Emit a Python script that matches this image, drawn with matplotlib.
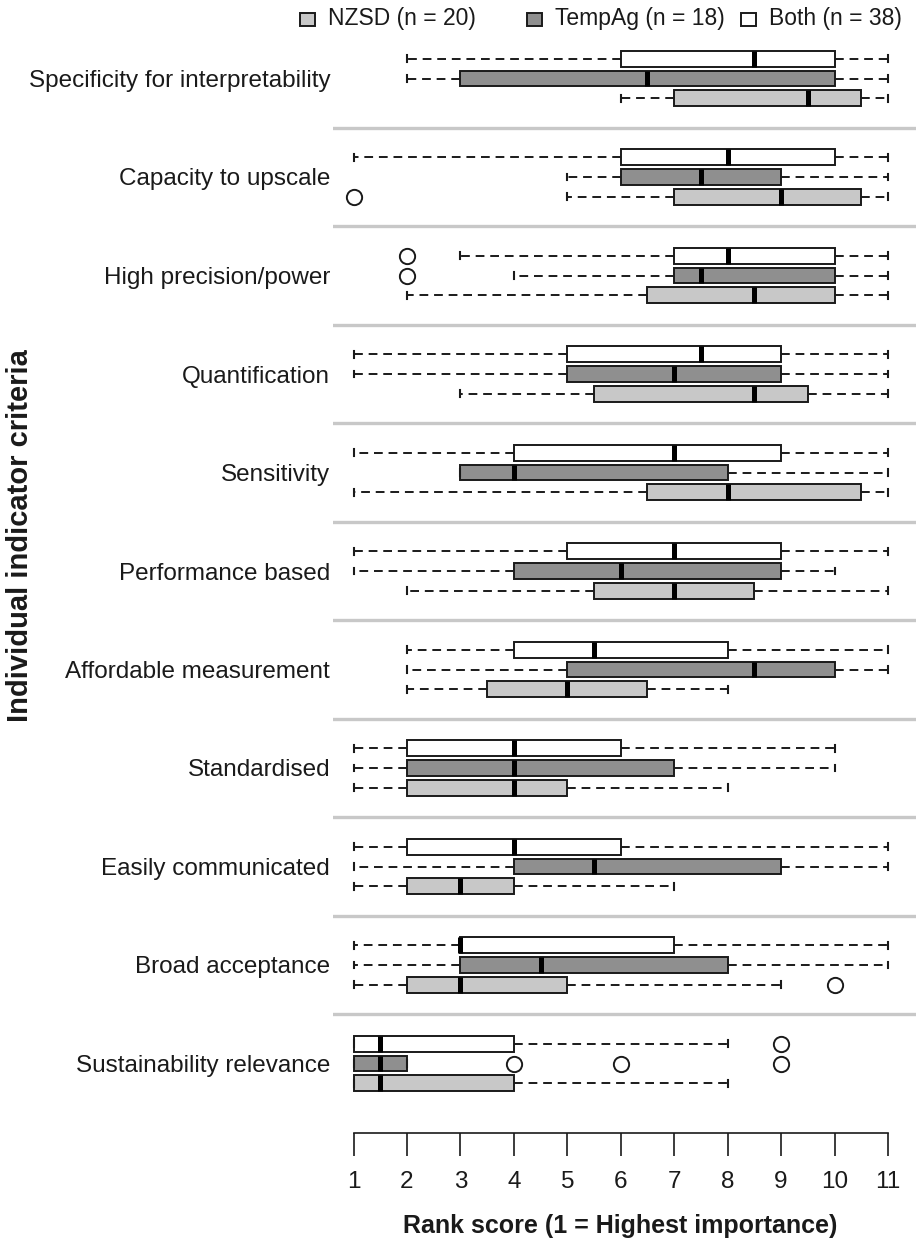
import numpy as np
import matplotlib
matplotlib.use("Agg")
import matplotlib.pyplot as plt
from matplotlib.patches import Rectangle

plt.rcParams['font.family'] = ['Liberation Sans', 'DejaVu Sans']

# criteria, top to bottom
criteria = [
    "Specificity for interpretability",
    "Capacity to upscale",
    "High precision/power",
    "Quantification",
    "Sensitivity",
    "Performance based",
    "Affordable measurement",
    "Standardised",
    "Easily communicated",
    "Broad acceptance",
    "Sustainability relevance",
]

# five-number summaries: (whisker low, Q1, median, Q3, whisker high)
both_stats = [
    (2, 6, 8.5, 10, 11), (1, 6, 8, 10, 11), (3, 7, 8, 10, 11), (1, 5, 7.5, 9, 11),
    (1, 4, 7, 9, 11), (1, 5, 7, 9, 11), (2, 4, 5.5, 8, 11), (1, 2, 4, 6, 10),
    (1, 2, 4, 6, 11), (1, 3, 3, 7, 11), (1, 1, 1.5, 4, 8),
]
tempag_stats = [
    (2, 3, 6.5, 10, 11), (5, 6, 7.5, 9, 11), (4, 7, 7.5, 10, 11), (1, 5, 7, 9, 11),
    (3, 3, 4, 8, 11), (1, 4, 6, 9, 10), (2, 5, 8.5, 10, 11), (1, 2, 4, 7, 10),
    (1, 4, 5.5, 9, 11), (1, 3, 4.5, 8, 11), (1, 1, 1.5, 2, 2),
]
nzsd_stats = [
    (6, 7, 9.5, 10.5, 11), (5, 7, 9, 10.5, 11), (2, 6.5, 8.5, 10, 11), (3, 5.5, 8.5, 9.5, 11),
    (1, 6.5, 8, 10.5, 11), (2, 5.5, 7, 8.5, 11), (2, 3.5, 5, 6.5, 8), (1, 2, 4, 5, 8),
    (1, 2, 3, 4, 7), (1, 2, 3, 5, 9), (1, 1, 1.5, 4, 8),
]

# outliers: criterion index -> values
both_fliers = {2: [2], 10: [9]}
tempag_fliers = {2: [2], 10: [4, 6, 9]}
nzsd_fliers = {1: [1], 9: [10]}

group_names = ["NZSD (n = 20)", "TempAg (n = 18)", "Both (n = 38)"]
group_colors = ["#c8c8c8", "#8f8f8f", "#ffffff"]


def make_stats(stats, fliers):
    out = []
    for i, (lo, q1, med, q3, hi) in enumerate(stats):
        out.append({"whislo": lo, "q1": q1, "med": med, "q3": q3, "whishi": hi,
                    "fliers": np.array(fliers.get(i, []), dtype=float)})
    return out


fig = plt.figure(figsize=(9.16, 12.45), dpi=100)
ax = fig.add_axes([333 / 916, 1 - 1133 / 1245, (916 - 333) / 916, (1133 - 30) / 1245])

idx = np.arange(len(criteria))
offsets = [0.2, 0.0, -0.2]  # NZSD bottom, TempAg middle, Both top
all_stats = [nzsd_stats, tempag_stats, both_stats]
all_fliers = [nzsd_fliers, tempag_fliers, both_fliers]

for stats, fl, off, col in zip(all_stats, all_fliers, offsets, group_colors):
    ax.bxp(make_stats(stats, fl), positions=idx + off, widths=0.16, capwidths=0.07,
           orientation='horizontal', patch_artist=True, manage_ticks=False,
           boxprops=dict(facecolor=col, edgecolor='#1a1a1a', linewidth=1.4),
           medianprops=dict(color='black', linewidth=3.6, solid_capstyle='butt'),
           whiskerprops=dict(color='#1a1a1a', linewidth=1.4, linestyle=(0, (4.5, 3))),
           capprops=dict(color='#1a1a1a', linewidth=1.5),
           flierprops=dict(marker='o', markersize=11, markerfacecolor='none',
                           markeredgecolor='#1a1a1a', markeredgewidth=1.4))

# grey separators between criteria
for k in range(len(criteria) - 1):
    ax.axhline(k + 0.5, color='#c8c8c8', linewidth=2.4, zorder=0)

ax.set_xlim(1 - 20.5 / 53.45, 11 + 28 / 53.45)
ax.set_ylim((1133 - 78.5) / 98.5, (30 - 78.5) / 98.5)

ax.set_yticks(idx)
ax.set_yticklabels(criteria, fontsize=17.5, color='#1a1a1a')
ax.tick_params(axis='y', length=0, pad=2)

ax.set_xticks(np.arange(1, 12))
ax.tick_params(axis='x', direction='out', length=16.5, width=1.2, pad=11,
               labelsize=17.5, colors='#1a1a1a')
for s in ['top', 'right', 'left']:
    ax.spines[s].set_visible(False)
ax.spines['bottom'].set_bounds(1, 11)
ax.spines['bottom'].set_linewidth(1.2)
ax.spines['bottom'].set_color('#1a1a1a')

fig.text(620 / 916, 1 - 1226 / 1245, "Rank score (1 = Highest importance)",
         ha='center', va='center', fontsize=18, fontweight='bold', color='#1a1a1a')
fig.text(20 / 916, 1 - 536 / 1245, "Individual indicator criteria", rotation=90,
         ha='center', va='center', fontsize=21, fontweight='bold', color='#1a1a1a')

# legend along the top
leg_x = [300, 527, 741]
for x0, name, col in zip(leg_x, group_names, group_colors):
    fig.patches.append(Rectangle((x0 / 916, 1 - 26 / 1245), 15 / 916, 13 / 1245,
                                 transform=fig.transFigure, facecolor=col,
                                 edgecolor='#1a1a1a', linewidth=1.4))
    fig.text((x0 + 28) / 916, 1 - 19 / 1245, name, ha='left', va='center',
             fontsize=16.5, color='#1a1a1a')

fig.savefig("out.png", dpi=100)
